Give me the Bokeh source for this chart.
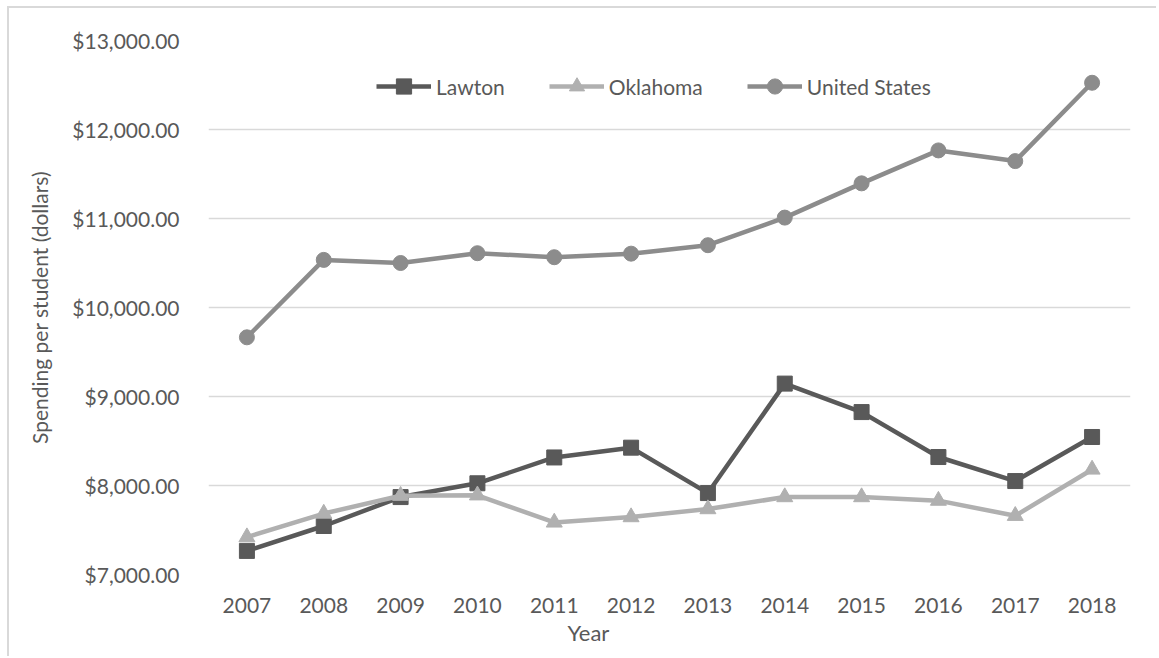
from bokeh.plotting import figure
from bokeh.models import (FactorRange, Range1d, NumeralTickFormatter, Legend, LegendItem,
                          Title, SingleIntervalTicker)
from bokeh.embed import file_html
from bokeh.resources import INLINE

# ---- data ----
years = ["2007", "2008", "2009", "2010", "2011", "2012",
         "2013", "2014", "2015", "2016", "2017", "2018"]
lawton = [7265, 7545, 7870, 8025, 8315, 8425, 7915, 9145, 8825, 8320, 8050, 8545]
oklahoma = [7420, 7685, 7885, 7890, 7585, 7645, 7735, 7870, 7870, 7830, 7660, 8180]
united_states = [9665, 10535, 10500, 10610, 10565, 10605, 10700, 11010, 11395, 11765, 11645, 12525]
series_names = ["Lawton", "Oklahoma", "United States"]
y_ticks_step = 1000

FONT = "Lato"
TXT = "#595959"
C_LAWTON = "#595959"
C_OK = "#B0B0B0"
C_US = "#8C8C8C"

p = figure(width=1149, height=650, output_backend="svg", toolbar_location=None,
           x_range=FactorRange(factors=years, range_padding=0),
           y_range=Range1d(7000, 13000),
           min_border_left=199, min_border_right=28, min_border_top=32, min_border_bottom=84)
p.styles = {"border-left": "2px solid #D9D9D9", "border-top": "2px solid #D9D9D9",
            "margin-left": "7px", "margin-top": "6px"}
p.outline_line_color = None
p.background_fill_color = "white"
p.border_fill_color = "white"

# grid
p.xgrid.grid_line_color = None
p.ygrid.grid_line_color = "#D9D9D9"
p.ygrid.grid_line_width = 1.5
p.yaxis.ticker = SingleIntervalTicker(interval=y_ticks_step)

# axes
for ax in (p.xaxis[0], p.yaxis[0]):
    ax.axis_line_color = None
    ax.major_tick_line_color = None
    ax.minor_tick_line_color = None
    ax.major_tick_out = 0
    ax.major_tick_in = 0
    ax.minor_tick_out = 0
    ax.minor_tick_in = 0
    ax.major_label_text_font = FONT
    ax.major_label_text_font_size = "21px"
    ax.major_label_text_color = TXT
    ax.axis_label_text_font = FONT
    ax.axis_label_text_font_size = "21px"
    ax.axis_label_text_color = TXT
    ax.axis_label_text_font_style = "normal"

p.yaxis.formatter = NumeralTickFormatter(format="$0,0.00")
p.yaxis.major_label_standoff = 29
p.yaxis.axis_label = "Spending per student (dollars)"
p.yaxis.axis_label_standoff = 17
p.xaxis.major_label_standoff = 23

# series
r1l = p.line(years, lawton, line_color=C_LAWTON, line_width=4.5, line_join="round")
r1m = p.scatter(years, lawton, marker="square", size=15, fill_color=C_LAWTON, line_color=C_LAWTON)
r2l = p.line(years, oklahoma, line_color=C_OK, line_width=4.5, line_join="round")
r2m = p.scatter(years, oklahoma, marker="triangle", size=16, fill_color=C_OK, line_color=C_OK)
r3l = p.line(years, united_states, line_color=C_US, line_width=4.5, line_join="round")
r3m = p.scatter(years, united_states, marker="circle", size=15, fill_color=C_US, line_color=C_US)

legend = Legend(items=[
    LegendItem(label=series_names[0], renderers=[r1l, r1m]),
    LegendItem(label=series_names[1], renderers=[r2l, r2m]),
    LegendItem(label=series_names[2], renderers=[r3l, r3m]),
], orientation="horizontal", location=(168, 469))
legend.glyph_width = 55
legend.glyph_height = 38
legend.label_height = 38
legend.label_standoff = 5
legend.spacing = 44
legend.padding = 0
legend.margin = 0
legend.border_line_color = None
legend.background_fill_alpha = 0
legend.label_text_font = FONT
legend.label_text_font_size = "21px"
legend.label_text_color = TXT
p.add_layout(legend, "center")

# x axis title (placed left of centre, as in the reference)
p.add_layout(Title(text="Year", align="left", offset=359, text_font=FONT,
                   text_font_size="22px", text_color=TXT, text_font_style="normal",
                   standoff=3), "below")

open("out.html", "w").write(file_html(p, INLINE))
